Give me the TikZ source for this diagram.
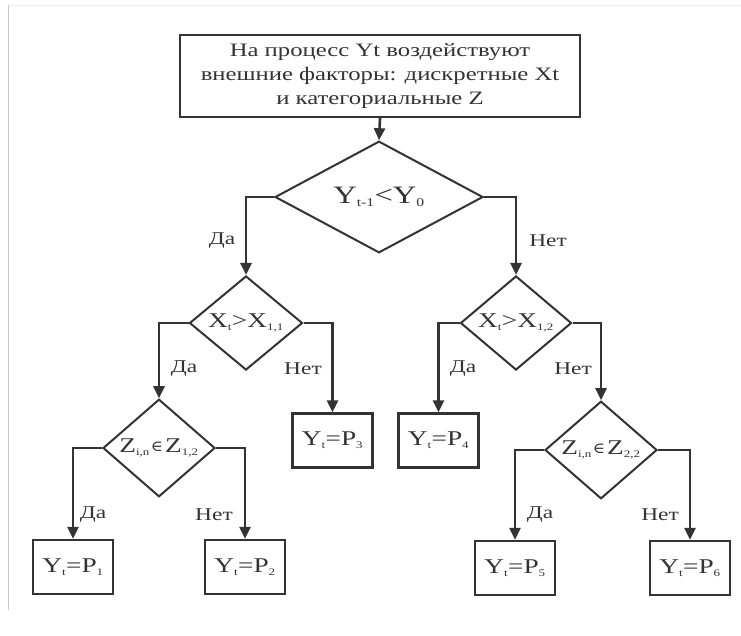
\documentclass[tikz,border=0pt]{standalone}
\usepackage{fontspec}
\setmainfont[FakeStretch=1.3]{Liberation Serif}
\newfontfamily\symf[FakeStretch=1.1]{DejaVu Serif}
\usetikzlibrary{shapes.geometric,arrows.meta}
\definecolor{ink}{HTML}{333333}
\definecolor{frame}{HTML}{C8C8C8}
\definecolor{framelight}{HTML}{EEEEEE}
\tikzset{
  box/.style={draw=ink, line width=2.4pt, text=ink, inner sep=0pt, align=center},
  dia/.style={diamond, draw=ink, line width=2pt, text=ink, inner sep=0pt},
  conn/.style={draw=ink, line width=2.6pt, -{Triangle[length=12pt,width=11pt]}},
  lbl/.style={text=ink, font=\fontsize{18}{20}\selectfont, inner sep=0pt},
  formula/.style={font=\fontsize{21}{24}\selectfont},
}
\newcommand{\sbs}[1]{\textsubscript{\fontsize{10}{12}\selectfont #1}}
\newcommand{\elem}{\kern1pt{\symf\fontsize{15}{18}\selectfont\raisebox{1pt}{∈}}\kern2pt}
\begin{document}
\begin{tikzpicture}[x=1pt,y=-1pt]
\useasboundingbox (0,0) rectangle (741,635);
\fill[white] (0,0) rectangle (741,635);
\draw[framelight, line width=1pt] (8,5) -- (741,5);
\draw[frame, line width=1pt] (8,610) -- (8,5);
% top box
\node[box, minimum width=400pt, minimum height=82pt, font=\fontsize{19}{23.5}\selectfont] (top) at (380,76)
  {\raisebox{-3pt}{\begin{tabular}{@{}c@{}}На процесс Yt воздействуют\\[0.5pt]внешние факторы: дискретные Xt\\[0.5pt]и категориальные Z\end{tabular}}};
% diamonds
\node[dia, minimum width=208pt, minimum height=94pt, font=\fontsize{25}{28}\selectfont] (d1) at (379,197)
  {\raisebox{-4pt}{Y\textsubscript{\fontsize{12}{14}\selectfont t-1}<Y\textsubscript{\fontsize{12}{14}\selectfont 0}}};
\node[dia, minimum width=113pt, minimum height=70pt, formula] (d2) at (246,323) {X\sbs{t}>X\sbs{1,1}};
\node[dia, minimum width=111pt, minimum height=70pt, formula] (d3) at (516,323) {X\sbs{t}>X\sbs{1,2}};
\node[dia, minimum width=112pt, minimum height=68pt, formula] (d4) at (159,448) {Z\sbs{i,n}\elem Z\sbs{1,2}};
\node[dia, minimum width=112pt, minimum height=70pt, formula] (d5) at (601,450) {Z\sbs{i,n}\elem Z\sbs{2,2}};
% result boxes
\tikzset{res/.style={box, minimum width=80pt, minimum height=54pt, formula}}
\node[res] (p3) at (332.5,440.5) {Y\sbs{t}=P\sbs{3}};
\node[res] (p4) at (438.5,440.5) {Y\sbs{t}=P\sbs{4}};
\node[res] (p1) at (73,567) {Y\sbs{t}=P\sbs{1}};
\node[res] (p2) at (245,567) {Y\sbs{t}=P\sbs{2}};
\node[res] (p5) at (515,568) {Y\sbs{t}=P\sbs{5}};
\node[res] (p6) at (690,568) {Y\sbs{t}=P\sbs{6}};
% connectors
\draw[conn] (top.south) -- (d1.north);
\draw[conn] (d1.west) -| (d2.north);
\draw[conn] (d1.east) -| (d3.north);
\draw[conn] (d2.west) -| (d4.north);
\draw[conn] (d2.east) -| (p3.north);
\draw[conn] (d3.west) -| (p4.north);
\draw[conn] (d3.east) -| (d5.north);
\draw[conn] (d4.west) -| (p1.north);
\draw[conn] (d4.east) -| (p2.north);
\draw[conn] (d5.west) -| (p5.north);
\draw[conn] (d5.east) -| (p6.north);
% labels
\node[lbl] (l1) at (222,241) {Да};
\node[lbl] (l2) at (548,241) {Нет};
\node[lbl] (l3) at (184,369) {Да};
\node[lbl] (l4) at (303,369) {Нет};
\node[lbl] (l5) at (463,369) {Да};
\node[lbl] (l6) at (573,369) {Нет};
\node[lbl] (l7) at (93,515) {Да};
\node[lbl] (l8) at (214,515) {Нет};
\node[lbl] (l9) at (540,515) {Да};
\node[lbl] (l10) at (660,515) {Нет};
\end{tikzpicture}
\end{document}
